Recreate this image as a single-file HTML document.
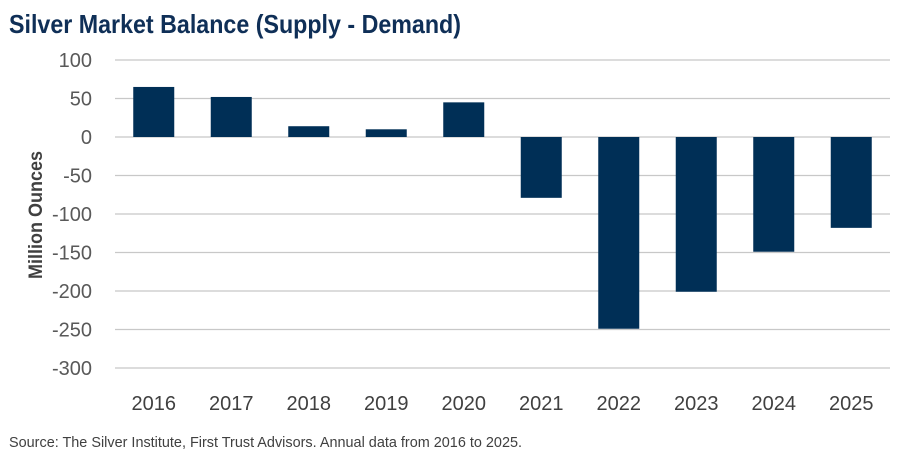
<!DOCTYPE html>
<html><head><meta charset="utf-8"><style>
html,body{margin:0;padding:0;background:#fff;}
svg{display:block;font-family:"Liberation Sans Narrow","Liberation Sans",sans-serif;}
</style></head><body>
<svg id="chart" width="904" height="457" viewBox="0 0 904 457">
<text x="9" y="33" font-size="26" font-weight="bold" fill="#0f2f57" textLength="452" lengthAdjust="spacingAndGlyphs">Silver Market Balance (Supply - Demand)</text>
<text transform="translate(42,215) rotate(-90)" text-anchor="middle" font-size="19" font-weight="bold" fill="#404040" textLength="128" lengthAdjust="spacingAndGlyphs">Million Ounces</text>
<g id="grid"></g><g id="bars"></g><g id="xl"></g>
<text x="9" y="447" font-size="15" fill="#404040" textLength="513" lengthAdjust="spacingAndGlyphs">Source: The Silver Institute, First Trust Advisors. Annual data from 2016 to 2025.</text>
</svg>
<script>
const categories=["2016","2017","2018","2019","2020","2021","2022","2023","2024","2025"];
const balance=[65,52,14,10,45,-79,-249,-201,-149,-118];
const yTicks=[100,50,0,-50,-100,-150,-200,-250,-300];
const NS="http://www.w3.org/2000/svg";
const x0=115,x1=890,band=(x1-x0)/categories.length,bw=41;
const y=v=>137-v*(231/300);
const xc=i=>x0+band*(i+0.5);
function mk(t,a,p){const e=document.createElementNS(NS,t);for(const k in a)e.setAttribute(k,a[k]);p.appendChild(e);return e;}
const g=document.getElementById('grid'),b=document.getElementById('bars'),xl=document.getElementById('xl');
yTicks.forEach(v=>{
 const l=mk('line',{x1:x0,x2:x1,y1:y(v),y2:y(v),stroke:'#c8c8c8','stroke-width':1.2},g);
 
 
 const t=mk('text',{x:92,y:y(v)+7,'text-anchor':'end','font-size':20,fill:'#595959'},g);
 t.textContent=v;
 
 
});
categories.forEach((c,i)=>{
 const v=balance[i];
 const r=mk('rect',{x:xc(i)-bw/2,y:Math.min(y(v),y(0)),width:bw,height:Math.abs(y(v)-y(0)),fill:'#002f56'},b);
 
 
 const t=mk('text',{x:xc(i),y:410,'text-anchor':'middle','font-size':20,fill:'#404040'},xl);
 t.textContent=c;
 
 
});
</script>
</body></html>
